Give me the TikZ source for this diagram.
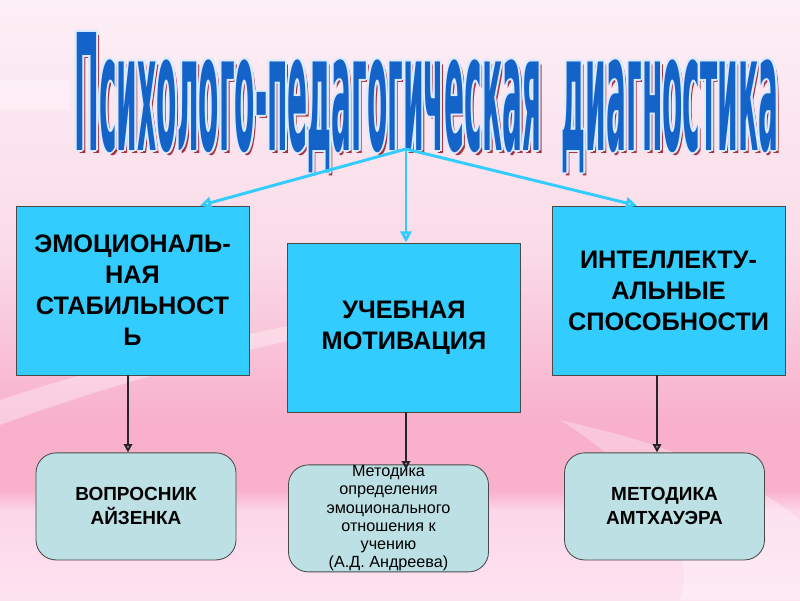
\documentclass[tikz,border=0pt]{standalone}
\usepackage{fontspec}
\setmainfont{Liberation Sans}
\newfontfamily\titlefont{DejaVu Sans}
\usepackage{graphicx}
\usetikzlibrary{positioning,arrows.meta}

\definecolor{bgtop}{HTML}{FCEFF5}
\definecolor{bgmid}{HTML}{FADCE8}
\definecolor{bgpink}{HTML}{F8B0CB}
\definecolor{bglow}{HTML}{FCD6EA}
\definecolor{bgbottom}{HTML}{FDE3F0}
\definecolor{boxcyan}{HTML}{33CCFF}
\definecolor{boxteal}{HTML}{BCE0E3}
\definecolor{linecyan}{HTML}{33CCFF}
\definecolor{titleblue}{HTML}{1463C9}
\definecolor{titleedge}{HTML}{DDEBFF}
\definecolor{titleshadow}{HTML}{A8323F}
\definecolor{edgegray}{HTML}{4A4A4A}

\newcommand{\titletext}{\resizebox{17.6cm}{2.95cm}{\titlefont\bfseries Психолого-педагогическая\ \ диагностика}}

\begin{document}
\begin{tikzpicture}[
    x=0.025cm, y=-0.025cm,
    topbox/.style={draw=edgegray, line width=0.6pt, fill=boxcyan, minimum width=5.825cm, minimum height=4.225cm, inner sep=0pt, align=center, font=\fontsize{18}{22}\selectfont\bfseries},
    methodbox/.style={draw=edgegray, line width=0.6pt, fill=boxteal, rounded corners=0.5cm, minimum width=5cm, minimum height=2.675cm, inner sep=0pt, align=center},
    bigtext/.style={font=\fontsize{13.5}{17}\selectfont\bfseries},
    smalltext/.style={font=\fontsize{11.5}{13}\selectfont},
    toparrow/.style={draw=linecyan, line width=2.1pt, -{Triangle[open, length=8pt, width=8pt]}},
    downarrow/.style={draw=black!85, line width=1.4pt, -{Triangle[open, length=6pt, width=6pt]}},
    titlelayer/.style={anchor=base, inner sep=0pt}
]
% background
\fill[top color=bgtop, bottom color=bgmid] (0,0) rectangle (800,250);
\fill[top color=bgmid, bottom color=bgpink] (0,249) rectangle (800,421);
\fill[bgpink] (0,420) rectangle (800,491);
\fill[top color=bgpink, bottom color=bglow] (0,490) rectangle (800,511);
\fill[top color=bglow, bottom color=bgbottom] (0,510) rectangle (800,600);
\fill[white, opacity=0.35] (0,400) .. controls (120,360) and (260,330) .. (420,300) -- (420,312) .. controls (260,345) and (120,380) .. (0,425) -- cycle;
\fill[white, opacity=0.3] (560,420) .. controls (650,440) and (740,470) .. (800,520) -- (800,600) -- (680,600) .. controls (700,540) and (640,470) .. (560,420) -- cycle;
\fill[white, opacity=0.3] (0,80) rectangle (70,110);

% title
\node[titlelayer, text=titleshadow] (tshadow) at (429.5,153.5) {\titletext};
\foreach \dx/\dy [count=\k] in {-2/0, 2/0, 0/-2, 0/2, -1.5/-1.5, 1.5/-1.5, -1.5/1.5, 1.5/1.5}
  \node[titlelayer, text=titleedge] (tedge\k) at ({426.5+\dx},{150+\dy}) {\titletext};
\node[titlelayer, text=titleblue] (title) at (426.5,150) {\titletext};

% main boxes
\node[topbox] (emo) at (132.5,290.5) {ЭМОЦИОНАЛЬ-\\НАЯ\\СТАБИЛЬНОСТ\\Ь};
\node[topbox] (motiv) at (404,327.5) {УЧЕБНАЯ\\МОТИВАЦИЯ};
\node[topbox] (intel) at (668.5,290.5) {ИНТЕЛЛЕКТУ-\\АЛЬНЫЕ\\СПОСОБНОСТИ};

% methods
\node[methodbox, bigtext, below=1.925cm of emo, xshift=0.0875cm] (quest) {ВОПРОСНИК\\АЙЗЕНКА};
\node[methodbox, smalltext, below=1.3cm of motiv, xshift=-0.3875cm] (andr) {Методика\\определения\\эмоционального\\отношения к\\учению\\(А.Д. Андреева)};
\node[methodbox, bigtext, below=1.925cm of intel, xshift=-0.1cm] (amth) {МЕТОДИКА\\АМТХАУЭРА};

% arrows
\coordinate (apex) at (406,149);
\draw[toparrow] (apex) -- ([xshift=1.6875cm]emo.north);
\draw[toparrow] (apex) -- (apex |- motiv.north);
\draw[toparrow] (apex) -- ([xshift=-0.7875cm]intel.north);

\draw[downarrow] ([xshift=-0.1125cm]emo.south) -- ([xshift=-0.1125cm]emo.south |- quest.north);
\draw[downarrow] ([xshift=0.05cm]motiv.south) -- ([xshift=0.05cm,yshift=-0.125cm]motiv.south |- andr.north);
\draw[downarrow] ([xshift=-0.2875cm]intel.south) -- ([xshift=-0.2875cm]intel.south |- amth.north);
\end{tikzpicture}
\end{document}
